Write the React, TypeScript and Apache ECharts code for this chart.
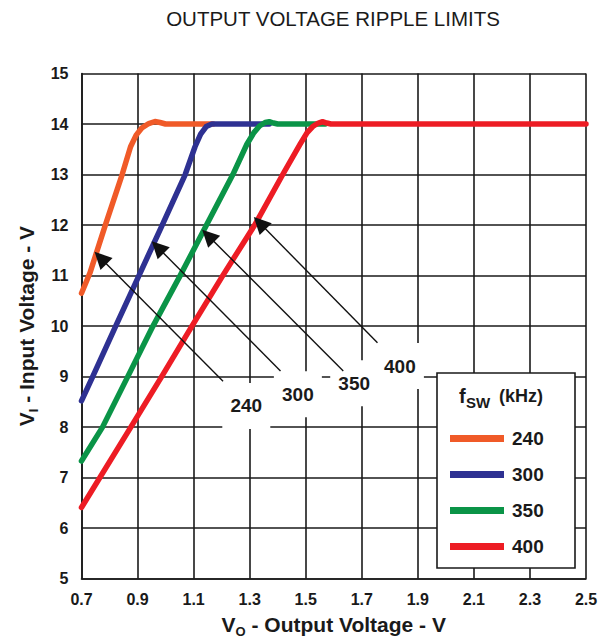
import React, { useEffect, useRef } from 'react';
import * as echarts from 'echarts';

const xTicks = [0.7, 0.9, 1.1, 1.3, 1.5, 1.7, 1.9, 2.1, 2.3, 2.5];
const seriesNames = ['240', '300', '350', '400'];
const colors = ['#F05A28', '#2E3192', '#0A9447', '#ED1C24'];

const curve240 = [[0.7, 10.65], [0.73, 11.05], [0.785, 12], [0.845, 13], [0.875, 13.55], [0.895, 13.78], [0.915, 13.92], [0.94, 14.01], [0.962, 14.05], [0.98, 14.03], [1.0, 14.0], [1.17, 14]];
const curve300 = [[0.7, 8.52], [0.74, 9], [0.822, 10], [0.905, 11], [0.988, 12], [1.07, 13], [1.105, 13.55], [1.125, 13.8], [1.145, 13.95], [1.165, 14], [1.37, 14]];
const curve350 = [[0.7, 7.33], [0.775, 8], [0.865, 9], [0.955, 10], [1.052, 11], [1.146, 12], [1.24, 13], [1.29, 13.6], [1.315, 13.83], [1.335, 13.96], [1.355, 14.03], [1.37, 14.045], [1.385, 14.02], [1.4, 14], [1.57, 14]];
const curve400 = [[0.7, 6.41], [0.876, 8], [0.986, 9], [1.094, 10], [1.204, 11], [1.318, 12], [1.418, 13], [1.48, 13.6], [1.505, 13.83], [1.525, 13.95], [1.545, 14.02], [1.56, 14.045], [1.575, 14.02], [1.59, 14], [2.5, 14]];

const arrowFrom = [[1.205, 8.91], [1.41, 9.11], [1.634, 9.11], [1.756, 9.67]];
const arrowTo = [[0.768, 11.35], [0.972, 11.56], [1.152, 11.79], [1.336, 12.04]];
const labelPos = [[1.288, 8.42], [1.472, 8.65], [1.673, 8.87], [1.836, 9.21]];

const FONT = '"Liberation Sans", Arial, sans-serif';

export default function App() {
  const ref = useRef<HTMLDivElement>(null);
  useEffect(() => {
    if (!ref.current) return;
    const chart = echarts.init(ref.current, undefined, { renderer: 'svg' });
    const curves = [curve240, curve300, curve350, curve400];
    const nameRich = {
      a: { fontSize: 21, fontWeight: 'bold', fontFamily: FONT, color: '#1a1a1a', lineHeight: 21, verticalAlign: 'top' },
      b: { fontSize: 13, fontWeight: 'bold', fontFamily: FONT, color: '#1a1a1a', lineHeight: 13, padding: [11, 0, 0, 0], verticalAlign: 'top' },
    };
    const option: any = {
      animation: false,
      backgroundColor: '#ffffff',
      textStyle: { fontFamily: FONT },
      title: {
        text: 'OUTPUT VOLTAGE RIPPLE LIMITS',
        left: 333,
        top: 8,
        padding: 0,
        textAlign: 'center',
        textStyle: { fontSize: 20.5, fontWeight: 'normal', color: '#1a1a1a', fontFamily: FONT },
      },
      grid: { left: 81.5, right: 22, top: 73.5, bottom: 60.3, containLabel: false, outerBoundsMode: 'none' },
      xAxis: {
        type: 'value',
        min: 0.7,
        max: 2.5,
        name: '{a|V}{b|O}{a| - Output Voltage - V}',
        nameLocation: 'middle',
        nameGap: 35,
        nameTextStyle: { rich: nameRich },
        axisLine: { show: true, lineStyle: { color: '#1a1a1a', width: 1.6 } },
        axisTick: { show: false, customValues: xTicks },
        axisLabel: {
          customValues: xTicks,
          formatter: (v: number) => v.toFixed(1),
          fontSize: 16,
          fontWeight: 'bold',
          color: '#1a1a1a',
          margin: 13,
          fontFamily: FONT,
        },
        splitLine: { show: true, lineStyle: { color: '#1a1a1a', width: 1.6 } },
      },
      yAxis: {
        type: 'value',
        min: 5,
        max: 15,
        interval: 1,
        name: '{a|V}{b|I}{a| - Input Voltage - V}',
        nameLocation: 'middle',
        nameRotate: 90,
        nameGap: 39,
        nameTextStyle: { rich: nameRich },
        axisLine: { show: true, lineStyle: { color: '#1a1a1a', width: 1.6 } },
        axisTick: { show: false },
        axisLabel: { fontSize: 16, fontWeight: 'bold', color: '#1a1a1a', margin: 13, fontFamily: FONT },
        splitLine: { show: true, lineStyle: { color: '#1a1a1a', width: 1.6 } },
      },
      legend: {
        data: seriesNames,
        orient: 'vertical',
        left: 445,
        top: 424,
        padding: 5,
        itemGap: 17,
        itemWidth: 54,
        itemHeight: 7,
        icon: 'rect',
        z: 6,
        textStyle: { fontSize: 19, fontWeight: 'bold', color: '#1a1a1a', fontFamily: FONT, padding: [0, 0, 0, 3] },
      },
      graphic: [
        {
          type: 'rect',
          z: 5,
          shape: { x: 437, y: 373, width: 138, height: 195 },
          style: { fill: '#ffffff', stroke: '#1a1a1a', lineWidth: 1.6 },
        },
        {
          type: 'text',
          z: 6,
          x: 459,
          y: 386,
          style: { text: 'f', fill: '#1a1a1a', font: 'bold 20px ' + FONT },
        },
        {
          type: 'text',
          z: 6,
          x: 466,
          y: 395,
          style: { text: 'SW', fill: '#1a1a1a', font: 'bold 15px ' + FONT },
        },
        {
          type: 'text',
          z: 6,
          x: 499,
          y: 387,
          style: { text: '(kHz)', fill: '#1a1a1a', font: 'bold 18px ' + FONT },
        },
      ],
      series: [
        ...curves.map((c, i) => ({
          name: seriesNames[i],
          type: 'line',
          data: c,
          showSymbol: false,
          symbol: 'none',
          smooth: false,
          z: 3,
          lineStyle: { color: colors[i], width: 5.5, join: 'round', cap: 'round' },
          itemStyle: { color: colors[i] },
          silent: true,
        })),
        {
          name: 'labelBoxes',
          type: 'scatter',
          symbol: 'rect',
          symbolSize: [48, 46],
          z: 4,
          silent: true,
          itemStyle: { color: '#ffffff', opacity: 1 },
          data: labelPos.map((p, i) => ({ value: p, name: seriesNames[i] })),
          label: {
            show: true,
            position: 'inside',
            formatter: (p: any) => p.name,
            fontSize: 19,
            fontWeight: 'bold',
            color: '#1a1a1a',
            opacity: 1,
            fontFamily: FONT,
          },
        },
        {
          name: 'arrows',
          type: 'lines',
          coordinateSystem: 'cartesian2d',
          z: 5,
          silent: true,
          symbol: ['none', 'triangle'],
          symbolSize: 17,
          lineStyle: { color: '#111111', width: 1.4, opacity: 1 },
          data: arrowFrom.map((f, i) => ({ coords: [f, arrowTo[i]] })),
        },
      ],
    };
    chart.setOption(option);
    return () => chart.dispose();
  }, []);
  return <div ref={ref} style={{ position: 'absolute', left: 0, top: 0, width: 608, height: 639 }} />;
}
